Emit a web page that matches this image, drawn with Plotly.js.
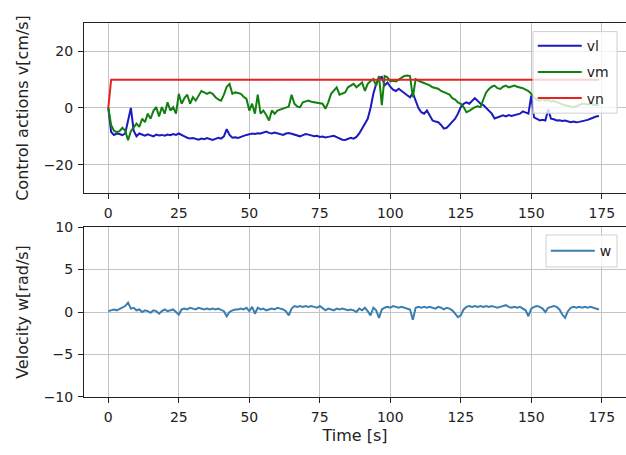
<!DOCTYPE html>
<html>
<head>
<meta charset="utf-8">
<script src="https://cdn.plot.ly/plotly-3.0.1.min.js"></script>
<style>html,body{margin:0;padding:0;background:#fff;}#chart{width:626px;height:455px;}</style>
</head>
<body>
<div id="chart"></div>
<script>
const time = [0,1,2,3,4,5,6,7,8,9,10,11,12,13,14,15,16,17,18,19,20,21,22,23,24,25,26,27,28,29,30,31,32,33,34,35,36,37,38,39,40,41,42,43,44,45,46,47,48,49,50,51,52,53,54,55,56,57,58,59,60,61,62,63,64,65,66,67,68,69,70,71,72,73,74,75,76,77,78,79,80,81,82,83,84,85,86,87,88,89,90,91,92,93,94,95,96,97,98,99,100,101,102,103,104,105,106,107,108,109,110,111,112,113,114,115,116,117,118,119,120,121,122,123,124,125,126,127,128,129,130,131,132,133,134,135,136,137,138,139,140,141,142,143,144,145,146,147,148,149,150,151,152,153,154,155,156,157,158,159,160,161,162,163,164,165,166,167,168,169,170,171,172,173,174];

const vl = [0,-8.5,-9.5,-9,-9.2,-9.6,-9,-5,0,-8,-10,-9,-9.5,-9.8,-9.3,-9.6,-10,-9.4,-9.7,-9.5,-9.8,-9.4,-9.6,-9.2,-9.5,-9,-9.4,-10,-10.5,-10.8,-10.6,-11,-11.2,-10.8,-11,-10.6,-11,-11.3,-10.9,-10.5,-10.8,-10,-7.5,-9.5,-10.5,-10.3,-10.6,-10.2,-9.8,-9.5,-9.3,-9,-9.2,-8.9,-9,-8.6,-8.3,-8.8,-9,-8.7,-8.9,-9.2,-9.5,-9,-8.8,-9.1,-9.4,-9.8,-10,-9.6,-9.2,-9.4,-9.7,-10,-9.8,-10.2,-10.1,-10.4,-10.2,-10,-9.8,-10.3,-10.8,-11.2,-11.3,-11,-10.5,-10.8,-10.2,-9,-7.3,-5.5,-3.8,0,5,8.5,10.5,11,8,9,7.5,6.5,6,6.8,6,5,4.5,3.8,5.3,2.6,0,-1.5,-2,-0.9,-2.5,-4.4,-4.8,-5,-6,-7.3,-7,-6,-5,-3.8,-2,0.3,1.5,2,1.5,2.5,3.5,2.5,1.5,1,0,-0.9,-2,-3.7,-3.3,-2.8,-2.6,-3,-2.5,-2.8,-2.6,-2.2,-2,-1.2,-1.5,-2,4.4,-3.3,-3.8,-4.4,-4.2,-4.4,-0.5,-3.8,-4,-4.4,-4.3,-4.6,-4.4,-4.8,-5,-4.8,-5,-4.9,-4.7,-4.5,-4.2,-3.8,-3.3,-3,-2.8];

const vm = [0,-6,-8,-8.5,-8.2,-7,-8,-11.4,-8.2,-7,-5.5,-6.7,-3.8,-5,-2,-3.8,-1,0.3,-3,0.3,-2,2,-0.9,0.3,-2,5,1.5,3.5,4.7,1.5,3.8,2.6,4.5,6,5.5,5,5.5,5,3.8,3,2.6,4.7,7.5,8.5,5,5.5,5.3,5,4,3.2,-0.9,1.5,-2,4.7,-2,-0.9,-2.5,-4.4,-0.9,-2,-0.9,-0.5,-0.3,0.3,0.5,4.7,1.5,0.5,0.3,2,2.3,2.6,2.2,2,2,1.8,1.5,-0.3,2,5,6,7.3,4.7,5,5.5,7.3,7.9,8.5,7.3,8,9,6,8.5,9.5,10.2,7.9,11.3,1,11.3,10.8,9.4,9.6,9.4,10,10.8,11.3,11.5,11.3,3.8,10.2,9.6,9.2,8.8,8.5,8,7.3,7,6.8,6,5.5,5,4.7,3.5,3,2,1.5,0.3,-1.5,-1,-0.3,0.3,0.6,0.3,3,5.5,6.7,7.5,7.9,7,6.7,7.5,7.9,7.3,7.6,7.9,7.5,7.3,7,6.5,6,5,3.5,3,2.5,3.2,2.6,3,2.2,2.5,2,1.8,1.2,1,0.8,0.5,0.3,0.6,1,1.5,1.5,1.2,1.5,1.3,1,1.2];

const vn = [0,10,10,10,10,10,10,10,10,10,10,10,10,10,10,10,10,10,10,10,10,10,10,10,10,10,10,10,10,10,10,10,10,10,10,10,10,10,10,10,10,10,10,10,10,10,10,10,10,10,10,10,10,10,10,10,10,10,10,10,10,10,10,10,10,10,10,10,10,10,10,10,10,10,10,10,10,10,10,10,10,10,10,10,10,10,10,10,10,10,10,10,10,10,10,10,10,10,10,10,10,10,10,10,10,10,10,10,10,10,10,10,10,10,10,10,10,10,10,10,10,10,10,10,10,10,10,10,10,10,10,10,10,10,10,10,10,10,10,10,10,10,10,10,10,10,10,10,10,10,10,10,10,10,10,10,10,10,10,10,10,10,10,10,10,10,10,10,10,10,10,10,10,10,10];

const w = [0.1,0.2,0.3,0.2,0.4,0.5,0.7,1.1,0.4,0.5,0.2,0.3,0,0.2,0.1,-0.1,0.2,0.1,-0.2,0.1,0.3,0.1,0.2,0.3,0,-0.3,0.3,0.4,0.3,0.5,0.4,0.3,0.5,0.4,0.3,0.4,0.3,0.4,0.3,0.4,0.2,0.1,-0.5,0,0.2,0.3,0.3,0.4,0.3,0.5,0.1,0.6,-0.2,0.5,0.3,0.4,0.2,0.3,0.4,0.3,0.5,0.4,0.3,0.1,-0.4,0.4,0.7,0.6,0.7,0.6,0.7,0.6,0.7,0.6,0.5,0.7,0.5,0.2,0.4,0.3,0.2,0.4,0.3,0.4,0.3,0.2,0.3,0.2,0,0.4,0.2,0.5,0.1,-0.4,0.5,0.2,-0.7,0.3,0.5,0.6,0.5,0.7,0.6,0.5,0.6,0.5,0.4,0.3,-0.9,0.5,0.6,0.5,0.6,0.5,0.6,0.5,0.4,0.6,0.5,0.3,0.5,0.4,0.2,-0.2,-0.6,-0.4,0.3,0.6,0.7,0.6,0.7,0.6,0.7,0.6,0.7,0.6,0.7,0.6,0.5,0.6,0.7,0.8,0.6,0.5,0.6,0.5,0.6,0.4,0.2,-0.5,0.4,0.6,0.7,0.6,0.4,0,0.5,0.6,0.7,0.6,0.3,-0.3,-0.7,0.1,0.5,0.6,0.5,0.6,0.5,0.6,0.5,0.6,0.5,0.4,0.3];

const xTicks = [0,25,50,75,100,125,150,175];
const yTicksTop = [-20,0,20];
const yTicksBottom = [-10,-5,0,5,10];

const FONT = 'DejaVu Sans, sans-serif';
const FS = 14;
const lw = 2;
const minusFmt = v => v < 0 ? '\u2212' + Math.abs(v) : String(v);

const traces = [
  {x: time, y: vl, name: 'vl', type: 'scatter', mode: 'lines', line: {color: '#1a1ac0', width: lw}, xaxis: 'x', yaxis: 'y', legend: 'legend', legendgroup: 'a'},
  {x: time, y: vm, name: 'vm', type: 'scatter', mode: 'lines', line: {color: '#118011', width: lw}, xaxis: 'x', yaxis: 'y', legend: 'legend', legendgroup: 'b'},
  {x: time, y: vn, name: 'vn', type: 'scatter', mode: 'lines', line: {color: '#e82020', width: lw}, xaxis: 'x', yaxis: 'y', legend: 'legend', legendgroup: 'c'},
  {x: time, y: w, name: 'w', type: 'scatter', mode: 'lines', line: {color: '#3a7fb0', width: lw}, xaxis: 'x2', yaxis: 'y2', legend: 'legend2'}
];

const axisCommon = {
  showgrid: true, gridcolor: '#c4c4c4', gridwidth: 1,
  zeroline: false, showline: true, linecolor: '#222', linewidth: 1, mirror: true,
  ticks: 'outside', ticklen: 5, tickcolor: '#222', tickwidth: 1,
  ticklabelstandoff: 2,
  tickfont: {family: FONT, size: FS, color: '#222'},
  automargin: false
};

const xr = [-8.62, 183.6];
const titleFont = {family: FONT, size: 16, color: '#222'};

// legend frames (matplotlib-style semi-transparent boxes)
const legendBox = {type: 'rect', xref: 'paper', yref: 'paper', layer: 'above',
  fillcolor: 'rgba(255,255,255,0.8)', line: {color: '#d0d0d0', width: 1}};

const layout = {
  width: 626, height: 455,
  margin: {l: 84, r: 0, t: 23, b: 58},
  paper_bgcolor: '#fff', plot_bgcolor: '#fff',
  font: {family: FONT, size: FS, color: '#222'},
  xaxis: Object.assign({}, axisCommon, {range: xr, tickvals: xTicks, ticktext: xTicks.map(String), anchor: 'y', domain: [0, 1]}),
  yaxis: Object.assign({}, axisCommon, {range: [-30, 30], tickvals: yTicksTop, ticktext: yTicksTop.map(minusFmt), domain: [0.5455, 1], anchor: 'x',
    title: {text: 'Control actions v[cm/s]', font: titleFont, standoff: 11}}),
  xaxis2: Object.assign({}, axisCommon, {range: xr, tickvals: xTicks, ticktext: xTicks.map(String), anchor: 'y2', domain: [0, 1],
    title: {text: 'Time [s]', font: titleFont, standoff: 6}}),
  yaxis2: Object.assign({}, axisCommon, {range: [-10, 10], tickvals: yTicksBottom, ticktext: yTicksBottom.map(minusFmt), domain: [0, 0.4545], anchor: 'x2',
    title: {text: 'Velocity w[rad/s]', font: titleFont, standoff: 11}}),
  shapes: [
    Object.assign({}, legendBox, {x0: 0.8284, x1: 0.9834, y0: 0.759, y1: 0.977}),
    Object.assign({}, legendBox, {x0: 0.8524, x1: 0.9834, y0: 0.3476, y1: 0.4332})
  ],
  legend: {
    x: 0.828, xanchor: 'left', y: 0.981, yanchor: 'top',
    bgcolor: 'rgba(0,0,0,0)', borderwidth: 0,
    font: {family: FONT, size: FS, color: '#222'}, tracegroupgap: 5, itemwidth: 44
  },
  legend2: {
    x: 0.852, xanchor: 'left', y: 0.433, yanchor: 'top',
    bgcolor: 'rgba(0,0,0,0)', borderwidth: 0,
    font: {family: FONT, size: FS, color: '#222'}, itemwidth: 44
  },
  showlegend: true
};

Plotly.newPlot('chart', traces, layout, {displayModeBar: false, staticPlot: true});
</script>
</body>
</html>
